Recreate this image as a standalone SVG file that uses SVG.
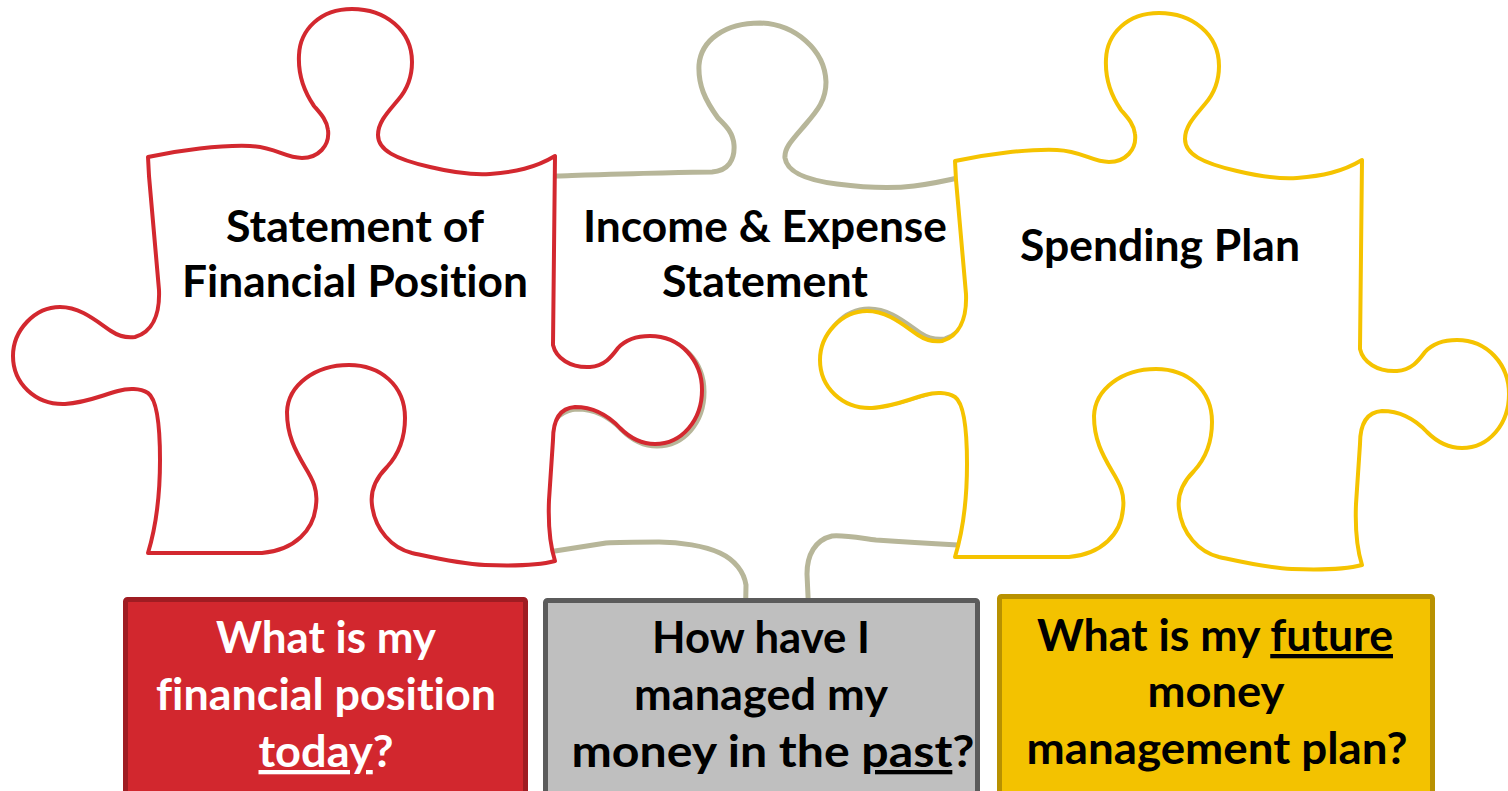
<svg xmlns="http://www.w3.org/2000/svg" xmlns:xlink="http://www.w3.org/1999/xlink" width="1508" height="791" viewBox="0 0 1508 791">
<style>
.piece{fill:#ffffff;stroke-linejoin:round;stroke-linecap:round}
.t{font-family:Lato,"Noto Sans","Open Sans",sans-serif;font-weight:700;font-size:43px;text-anchor:middle;font-variant-ligatures:none}
.dark{fill:#000000}
.light{fill:#ffffff}
.u{text-decoration:underline}
</style>
<defs>
<path id="pz" d="M148,157 C180,150 220,145 250,146 C275,147 285,158 302,158 C318,158 330,146 328,130 C327,120 320,113 314,106 C303,90 298,74 299,55 C300,30 320,9 352,9 C385,9 412,30 412,62 C412,80 405,92 398,100 C388,112 378,122 378,135 C378,150 395,159 430,167 C455,173 475,175 490,174 C515,172 535,168 555,156 L553,345 C556,358 570,368 590,367 C605,366 612,356 618,348 C627,338 638,336 650,336 C680,336 702,360 702,390 C702,420 682,444 655,444 C640,444 628,436 620,428 C605,412 590,407 575,407 C560,408 553,420 553,440 L549,500 C548,525 550,545 555,561 C540,565 510,566 485,565 C460,564 435,558 412,553 C392,548 375,530 372,505 C370,490 376,478 387,467 C398,455 405,440 405,418 C405,385 380,365 349,365 C315,365 288,385 287,412 C287,435 295,450 305,467 C313,480 318,490 316,505 C314,530 295,550 262,553 L148,553 C155,530 160,500 160,460 C160,430 158,400 148,393 C140,388 128,388 118,391 C100,396 85,403 65,404 C35,405 13,383 13,356 C13,330 35,307 60,307 C80,307 95,320 111,331 C120,337 128,338 135,337 C152,332 160,315 159,290 L149,176 Z"/>
</defs>

<g id="piece-income">
<path class="piece" stroke="#b7b699" stroke-width="5" d="M540,177 L557,176 C620,174 680,172 712,172 C728,171 735,160 734,145 C733,132 725,125 718,118 C705,100 698,85 699,65 C701,40 725,23 760,23 C795,24 825,50 826,82 C826,100 818,110 805,125 C792,140 784,148 785,158 C787,172 805,180 837,184 C860,187 890,189 914,186 C930,184 945,181 962,177 L980,180 L980,292 L970,292 C970,317 962,334 945,339 C937,340 929,339 920,333 C904,322 889,309 869,309 C844,309 823,332 823,358 C823,386 846,409 875,407 C894,405 909,399 926,394 C936,391 948,392 957,396 L980,420 L980,545 L958,545 C920,543 890,541 876,540 C860,538 845,535 832,536 C815,540 807,555 807,574 L810,640 L745,640 L746,585 C744,572 735,560 720,553 C705,546 680,542 659,542 C640,542 620,542 606,543 L555,551 L530,551 L530,430 L545,430 C555,418 563,410 577,409 C592,409 607,414 622,430 C630,438 642,446 657,446 C684,446 704,422 704,392 C704,362 682,338 652,338 C640,338 629,340 620,350 C614,358 607,368 592,369 L530,369 L530,177 Z"/>
<text class="t dark" x="765" y="242" textLength="364" lengthAdjust="spacingAndGlyphs">Income &amp; Expense</text>
<text class="t dark" x="765" y="297" textLength="206" lengthAdjust="spacingAndGlyphs">Statement</text>
</g>

<g id="piece-statement">
<use xlink:href="#pz" class="piece" stroke="#d3282f" stroke-width="4"/>
<text class="t dark" x="355" y="242" textLength="258" lengthAdjust="spacingAndGlyphs">Statement of</text>
<text class="t dark" x="355" y="297" textLength="346" lengthAdjust="spacingAndGlyphs">Financial Position</text>
</g>

<g id="piece-spending">
<use xlink:href="#pz" class="piece" stroke="#f5c300" stroke-width="4" transform="translate(807,4)"/>
<text class="t dark" x="1160" y="261" textLength="280" lengthAdjust="spacingAndGlyphs">Spending Plan</text>
</g>

<g id="box-today">
<rect x="125.5" y="599.5" width="400" height="220" rx="2" fill="#d2272e" stroke="#9f1c22" stroke-width="5"/>
<text class="t light" x="326" y="653" textLength="220" lengthAdjust="spacingAndGlyphs">What is my</text>
<text class="t light" x="326" y="710" textLength="340" lengthAdjust="spacingAndGlyphs">financial position</text>
<text class="t light" x="326" y="767" textLength="135" lengthAdjust="spacingAndGlyphs"><tspan class="u">today</tspan>?</text>
</g>

<g id="box-past">
<rect x="545.5" y="600.5" width="432" height="220" rx="2" fill="#bfbfbf" stroke="#5b5b5b" stroke-width="5"/>
<text class="t dark" x="761" y="653" textLength="218" lengthAdjust="spacingAndGlyphs">How have I</text>
<text class="t dark" x="761" y="710" textLength="254" lengthAdjust="spacingAndGlyphs">managed my</text>
<text class="t dark" x="773" y="767" textLength="403" lengthAdjust="spacingAndGlyphs">money in the <tspan class="u">past</tspan>?</text>
</g>

<g id="box-future">
<rect x="999.5" y="596.5" width="433" height="220" rx="2" fill="#f3c200" stroke="#b89100" stroke-width="5"/>
<text class="t dark" x="1215" y="651" textLength="356" lengthAdjust="spacingAndGlyphs">What is my <tspan class="u">future</tspan></text>
<text class="t dark" x="1216" y="707" textLength="137" lengthAdjust="spacingAndGlyphs">money</text>
<text class="t dark" x="1217" y="764" textLength="381" lengthAdjust="spacingAndGlyphs">management plan?</text>
</g>
</svg>
